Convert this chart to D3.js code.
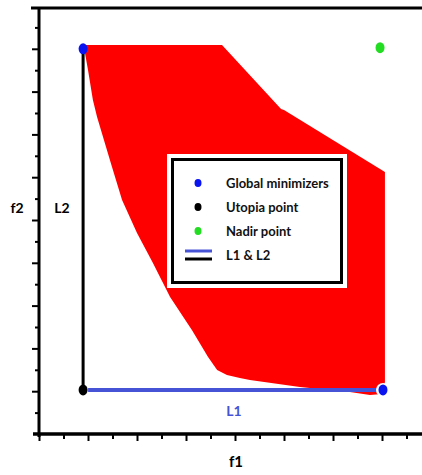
<!DOCTYPE html>
<html><head><meta charset="utf-8">
<script src="https://cdn.jsdelivr.net/npm/d3@7"></script>
<style>html,body{margin:0;padding:0;background:#fff;}svg{display:block;}</style>
</head><body>
<svg id="c" width="422" height="475"></svg>
<script>
// ---- data ----
const regionF1 = [1.84, 7.47, 9.88, 10.0, 14.12, 14.12, 14.0, 13.51, 12.69, 10.65, 8.61, 8.20, 7.67, 7.27, 6.90, 6.24, 5.35, 4.65, 4.00, 3.39, 2.98, 2.65, 2.37, 2.20, 2.00, 1.84];
const regionF2 = [18.18, 18.18, 15.19, 15.14, 12.24, 2.43, 1.87, 1.82, 1.96, 2.20, 2.52, 2.62, 2.76, 2.99, 3.60, 4.86, 6.40, 7.99, 9.39, 10.93, 12.48, 13.74, 14.81, 15.61, 17.01, 18.04];
const minimizersF1 = [1.8, 14.04];
const minimizersF2 = [18.0, 2.06];
const utopia = [1.8, 2.06];
const nadir = [13.92, 18.05];
const legendLabels = ["Global minimizers", "Utopia point", "Nadir point", "L1 & L2"];
const xTicks = d3.range(0, 16);
const yTicks = d3.range(1, 20);

// ---- layout ----
const svg = d3.select("#c");
const x = d3.scaleLinear().domain([0, 15]).range([39, 406.5]);
const y = d3.scaleLinear().domain([0, 19]).range([434, 27.4]);

// red region
svg.append("path")
  .datum(d3.zip(regionF1, regionF2))
  .attr("d", d3.line().x(d => x(d[0])).y(d => y(d[1])).curve(d3.curveLinearClosed))
  .attr("fill", "#ff0000");

// L2 (vertical black)
svg.append("line")
  .attr("x1", x(utopia[0])).attr("x2", x(minimizersF1[0]))
  .attr("y1", y(utopia[1])).attr("y2", y(minimizersF2[0]))
  .attr("stroke", "#000").attr("stroke-width", 3);
// L1 (horizontal blue)
svg.append("line")
  .attr("x1", x(utopia[0]) + 5).attr("x2", x(minimizersF1[1]) - 3)
  .attr("y1", y(utopia[1])).attr("y2", y(minimizersF2[1]))
  .attr("stroke", "#4653d6").attr("stroke-width", 4);

// points
const ptR = 5;
svg.append("circle").attr("cx", x(minimizersF1[1])).attr("cy", y(minimizersF2[1])).attr("r", ptR + 2).attr("fill", "#fff");
minimizersF1.forEach((v, i) => {
  svg.append("ellipse").attr("cx", x(v)).attr("cy", y(minimizersF2[i])).attr("rx", ptR - 0.5).attr("ry", ptR + 0.5).attr("fill", "#0a14f0");
});
svg.append("ellipse").attr("cx", x(utopia[0])).attr("cy", y(utopia[1])).attr("rx", ptR - 0.5).attr("ry", ptR + 0.5).attr("fill", "#000");
svg.append("ellipse").attr("cx", x(nadir[0])).attr("cy", y(nadir[1])).attr("rx", ptR - 0.5).attr("ry", ptR + 0.5).attr("fill", "#22dd22");

// axes
const ax = svg.append("g");
ax.append("g").attr("transform", "translate(0,434)")
  .call(d3.axisBottom(x).tickValues(xTicks).tickSize(6).tickFormat("").tickSizeOuter(0))
  .call(g => g.select(".domain").remove())
  .call(g => g.selectAll(".tick line").attr("stroke-width", 2).attr("y2", d => d % 2 === 0 ? 7 : 5));
ax.append("g").attr("transform", "translate(39,0)")
  .call(d3.axisLeft(y).tickValues(yTicks).tickFormat("").tickSizeOuter(0))
  .call(g => g.select(".domain").remove())
  .call(g => g.selectAll(".tick line").attr("stroke-width", 2).attr("x2", d => d % 2 === 0 ? -7 : -4));
// frame lines
ax.append("line").attr("x1", 31).attr("x2", 422).attr("y1", 8).attr("y2", 8).attr("stroke", "#000").attr("stroke-width", 3);
ax.append("line").attr("x1", 39).attr("x2", 39).attr("y1", 7).attr("y2", 437).attr("stroke", "#000").attr("stroke-width", 3);
ax.append("line").attr("x1", 33).attr("x2", 422).attr("y1", 434).attr("y2", 434).attr("stroke", "#000").attr("stroke-width", 3.5);

// text labels
const font = "Lato, 'Open Sans', sans-serif";
svg.append("text").attr("x", 17).attr("y", 213).attr("text-anchor", "middle")
  .attr("font-family", font).attr("font-weight", "bold").attr("font-size", 14).text("f2");
svg.append("text").attr("x", 236).attr("y", 467).attr("text-anchor", "middle")
  .attr("font-family", font).attr("font-weight", "bold").attr("font-size", 15).text("f1");
svg.append("text").attr("x", 62).attr("y", 213).attr("text-anchor", "middle")
  .attr("font-family", font).attr("font-weight", "bold").attr("font-size", 14).text("L2");
svg.append("text").attr("x", 234).attr("y", 416).attr("text-anchor", "middle")
  .attr("font-family", font).attr("font-weight", "bold").attr("font-size", 14).attr("fill", "#4653d6").text("L1");

// legend
const lg = svg.append("g");
lg.append("rect").attr("x", 167).attr("y", 154).attr("width", 180).attr("height", 134).attr("fill", "#fff");
lg.append("rect").attr("x", 172.5).attr("y", 159.5).attr("width", 169).attr("height", 123).attr("fill", "#fff")
  .attr("stroke", "#000").attr("stroke-width", 3);
const rowY = d3.scalePoint().domain(legendLabels).range([183, 255]);
const symColors = ["#0a14f0", "#000", "#22dd22"];
legendLabels.forEach((lab, i) => {
  const yy = rowY(lab);
  if (i < 3) {
    lg.append("ellipse").attr("cx", 198).attr("cy", yy).attr("rx", 3.5).attr("ry", 4).attr("fill", symColors[i]);
  } else {
    lg.append("line").attr("x1", 185).attr("x2", 212).attr("y1", yy - 4).attr("y2", yy - 4).attr("stroke", "#4653d6").attr("stroke-width", 3);
    lg.append("line").attr("x1", 185).attr("x2", 212).attr("y1", yy + 4).attr("y2", yy + 4).attr("stroke", "#000").attr("stroke-width", 3);
  }
  lg.append("text").attr("x", 226).attr("y", yy + 5).attr("font-family", font).attr("font-weight", "bold")
    .attr("font-size", 13).attr("fill", "#111").text(lab);
});
</script>
</body></html>
